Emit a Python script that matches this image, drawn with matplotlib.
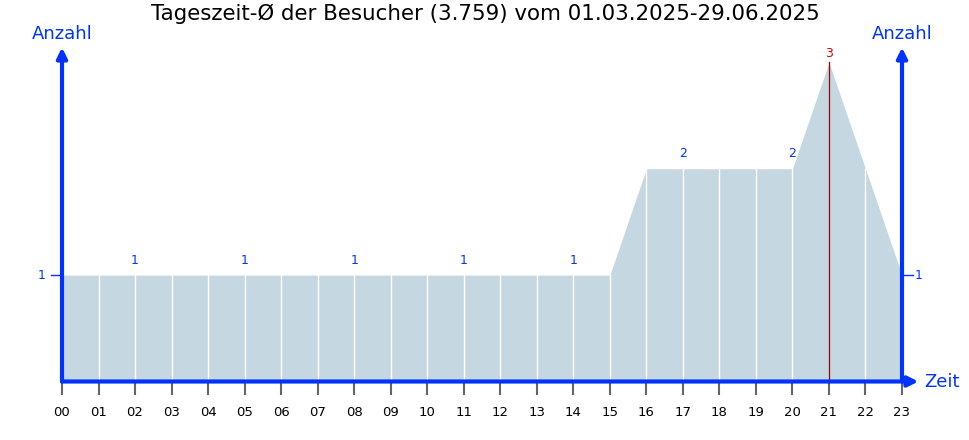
import matplotlib.pyplot as plt
import numpy as np

# Besucher je Stunde (Durchschnitt), 00..23 Uhr
hours = list(range(24))
counts = [1, 1, 1, 1, 1, 1, 1, 1, 1, 1, 1, 1, 1, 1, 1, 1, 2, 2, 2, 2, 2, 3, 2, 1]
tick_labels = [f"{h:02d}" for h in hours]
labelled_hours = [2, 5, 8, 11, 14, 17, 20]
peak_hour = 21

BLUE = "#0033ff"
FILL = "#c5d7e0"

fig = plt.figure(figsize=(9.7, 4.4), dpi=100)
ax = fig.add_axes([62 / 970, 1 - 381.5 / 440, 840 / 970, 334 / 440])
ax.set_xlim(0, 23)
ax.set_ylim(0, 3.14)

x = np.array(hours)
y = np.array(counts)
ax.fill_between(x, 0, y, color=FILL, linewidth=0, zorder=1)

# vertical hour lines inside the area
for h in hours[1:-1]:
    if h == peak_hour:
        ax.plot([h, h], [0, counts[h]], color="#a00000", lw=0.9, zorder=2)
    else:
        ax.plot([h, h], [0, counts[h]], color="white", lw=1.0, zorder=2)

# value labels
for h in labelled_hours:
    ax.text(h, counts[h] + 0.08, str(counts[h]), ha="center", va="bottom",
            fontsize=9, color=BLUE)
ax.text(peak_hour, counts[peak_hour] + 0.02, str(counts[peak_hour]), ha="center",
        va="bottom", fontsize=9, color="#dd0000")

for sp in ax.spines.values():
    sp.set_visible(False)
ax.set_xticks([])
ax.set_yticks([])

# axes with arrows
arrow = dict(arrowstyle="-|>,head_length=0.6,head_width=0.3", color=BLUE, lw=3,
             shrinkA=0, shrinkB=0)
ax.annotate("", xy=(0, 3.14), xytext=(0, 0), arrowprops=arrow, annotation_clip=False)
ax.annotate("", xy=(23, 3.14), xytext=(23, 0), arrowprops=arrow, annotation_clip=False)
ax.annotate("", xy=(23.45, 0), xytext=(0, 0), arrowprops=arrow, annotation_clip=False)

ax.text(0, 3.18, "Anzahl", ha="center", va="bottom", fontsize=13, color=BLUE)
ax.text(23, 3.18, "Anzahl", ha="center", va="bottom", fontsize=13, color=BLUE)
ax.text(23.6, 0, "Zeit", ha="left", va="center", fontsize=13, color=BLUE)

# y value 1 at both sides
ax.plot([-0.3, 0], [counts[0], counts[0]], color=BLUE, lw=1, clip_on=False)
ax.text(-0.55, counts[0], str(counts[0]), ha="center", va="center", fontsize=9, color=BLUE)
ax.plot([23, 23.3], [counts[-1], counts[-1]], color=BLUE, lw=1, clip_on=False)
ax.text(23.45, counts[-1], str(counts[-1]), ha="center", va="center", fontsize=9, color=BLUE)

# hour ticks
for h, lab in zip(hours, tick_labels):
    ax.plot([h, h], [-0.02, -0.12], color="#666666", lw=1.5, clip_on=False)
    ax.text(h, -0.29, lab, ha="center", va="center", fontsize=9.5, color="black")

fig.text(0.5, 1 - 14 / 440, "Tageszeit-Ø der Besucher (3.759) vom 01.03.2025-29.06.2025",
         ha="center", va="center", fontsize=15.4)

fig.savefig("out.png", dpi=100)
